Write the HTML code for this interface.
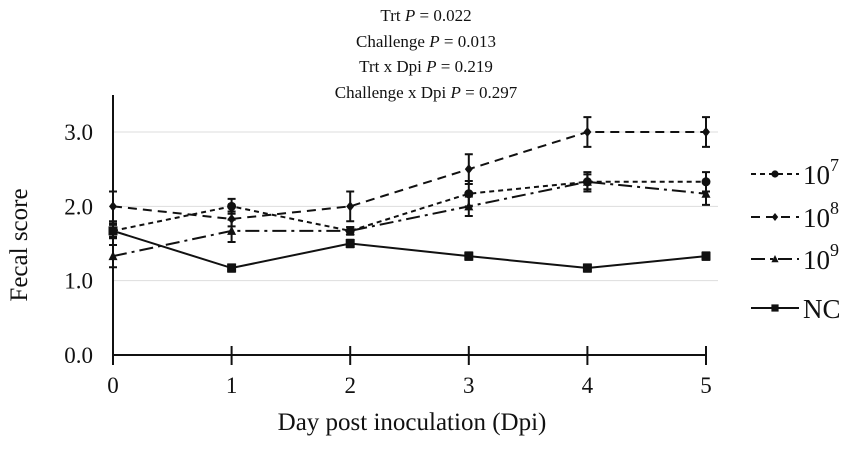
<!DOCTYPE html>
<html><head><meta charset="utf-8"><style>
body{margin:0;background:#fff;}
svg text{font-family:"Liberation Serif",serif;fill:#111;}
</style></head><body>
<svg id="chart" width="851" height="445" viewBox="0 0 851 445" xmlns="http://www.w3.org/2000/svg">
<g text-anchor="middle">
<text x="426" y="21" style="font-size:17px">Trt <tspan font-style="italic">P</tspan> = 0.022</text>
<text x="426" y="47" style="font-size:17px">Challenge <tspan font-style="italic">P</tspan> = 0.013</text>
<text x="426" y="72" style="font-size:17px">Trt x Dpi <tspan font-style="italic">P</tspan> = 0.219</text>
<text x="426" y="98" style="font-size:17px">Challenge x Dpi <tspan font-style="italic">P</tspan> = 0.297</text>
</g>
<g id="grid"></g>
<g id="axes"></g>
<g id="series"></g>
<g id="legend"></g>
<text transform="translate(27,245) rotate(-90)" text-anchor="middle" style="font-size:25px">Fecal score</text>
<text x="412" y="430" text-anchor="middle" style="font-size:25px">Day post inoculation (Dpi)</text>
</svg>
<script>
const days=[0,1,2,3,4,5];
const yTicks=[0,1,2,3];
const yTickLabels=["0.0","1.0","2.0","3.0"];
const s1e7=[1.67,2.0,1.67,2.17,2.33,2.33];
const s1e7err=[0.1,0.1,0.05,0.17,0.13,0.13];
const s1e8=[2.0,1.83,2.0,2.5,3.0,3.0];
const s1e8err=[0.2,0.1,0.2,0.2,0.2,0.2];
const s1e9=[1.33,1.67,1.67,2.0,2.33,2.17];
const s1e9err=[0.15,0.15,0.05,0.13,0.1,0.15];
const sNC=[1.67,1.17,1.5,1.33,1.17,1.33];
const sNCerr=[0.08,0.05,0.05,0.05,0.05,0.05];
const seriesNames=["10^7","10^8","10^9","NC"];

const NS="http://www.w3.org/2000/svg";
const X=d=>113+d*(706-113)/5;
const Y=v=>355-v*(355-132)/3;
function mk(tag,attrs,parent){const e=document.createElementNS(NS,tag);for(const k in attrs)e.setAttribute(k,attrs[k]);parent.appendChild(e);return e;}
const grid=document.getElementById('grid'),axes=document.getElementById('axes'),ser=document.getElementById('series'),leg=document.getElementById('legend');
yTicks.forEach((t,i)=>{
  if(t>0){const g=mk('line',{x1:113,x2:718,y1:Y(t),y2:Y(t),stroke:'#ddd','stroke-width':1},grid);
  
  }
  const tx=mk('text',{x:93,y:Y(t)+8,'text-anchor':'end',style:'font-size:23px'},axes);tx.textContent=yTickLabels[i];
  
  
});
mk('line',{x1:113,x2:113,y1:95,y2:355,stroke:'#111','stroke-width':2},axes);
mk('line',{x1:113,x2:706,y1:355,y2:355,stroke:'#111','stroke-width':2},axes);
days.forEach(d=>{
  mk('line',{x1:X(d),x2:X(d),y1:346,y2:365,stroke:'#111','stroke-width':2},axes);
  const tx=mk('text',{x:X(d),y:393,'text-anchor':'middle',style:'font-size:23px'},axes);tx.textContent=d;
  
  
});
const defs=[
 {v:s1e7,e:s1e7err,dash:'5,4',m:'circle'},
 {v:s1e8,e:s1e8err,dash:'9,6',m:'diamond'},
 {v:s1e9,e:s1e9err,dash:'14,5,3,5',m:'triangle'},
 {v:sNC,e:sNCerr,dash:'',m:'square'}];
function marker(type,x,y,p,s){s=s||1;
  if(type==='circle')return mk('circle',{cx:x,cy:y,r:4.5*s,fill:'#111'},p);
  if(type==='diamond')return mk('polygon',{points:`${x},${y-5*s} ${x+4*s},${y} ${x},${y+5*s} ${x-4*s},${y}`,fill:'#111'},p);
  if(type==='triangle')return mk('polygon',{points:`${x},${y-5*s} ${x+4.5*s},${y+4*s} ${x-4.5*s},${y+4*s}`,fill:'#111'},p);
  return mk('rect',{x:x-4.5*s,y:y-4.5*s,width:9*s,height:9*s,fill:'#111'},p);}
defs.forEach((sd,si)=>{
  const g=mk('g',{},ser);
  
  
  const pts=days.map((d,i)=>X(d)+','+Y(sd.v[i])).join(' ');
  const pl=mk('polyline',{points:pts,fill:'none',stroke:'#111','stroke-width':2,'stroke-dasharray':sd.dash},g);
  
  
  days.forEach((d,i)=>{
    const x=X(d),y1=Y(sd.v[i]+sd.e[i]),y2=Y(sd.v[i]-sd.e[i]);
    mk('path',{d:`M${x},${y1}V${y2}M${x-4},${y1}H${x+4}M${x-4},${y2}H${x+4}`,stroke:'#111','stroke-width':2,fill:'none'},g);
    const m=marker(sd.m,x,Y(sd.v[i]),g);
    
    
  });
  const ly=[174,217,259,308][si];
  const le=mk('g',{},leg);
  
  
  mk('line',{x1:751,x2:799,y1:ly,y2:ly,stroke:'#111','stroke-width':2,'stroke-dasharray':sd.dash},le);
  marker(sd.m,775,ly,le,0.8);
  const t=mk('text',{x:803,y:ly+10,style:'font-size:27px'},le);
  if(si<3){t.textContent='10';const sp=mk('tspan',{dy:-13,style:'font-size:18px'},t);sp.textContent=String(7+si);}
  else t.textContent='NC';
});
</script>
</body></html>
